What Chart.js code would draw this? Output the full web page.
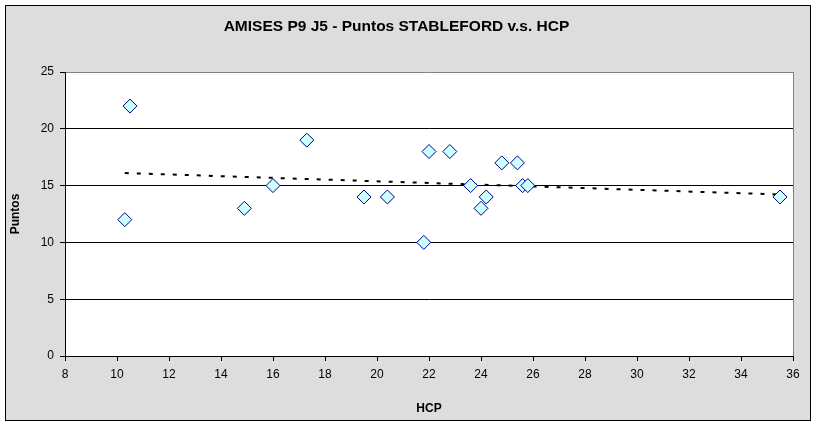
<!DOCTYPE html>
<html>
<head>
<meta charset="utf-8">
<script src="https://cdn.jsdelivr.net/npm/chart.js@4/dist/chart.umd.min.js"></script>
<style>
  body { margin: 0; background: #fff; }
</style>
</head>
<body>
<canvas id="chart" width="817" height="426"></canvas>
<script>
// data
var hcp =    [10.3, 10.5, 14.9, 16, 17.3, 19.5, 20.4, 21.8, 22, 22.8, 23.6, 24, 24.2, 24.8, 25.4, 25.6, 25.8, 35.5];
var puntos = [12,   22,   13,   15, 19,   14,   14,   10,   18, 18,   15,   13, 14,   17,   17,   15,   15,   14];

var titleText = 'AMISES P9 J5 - Puntos STABLEFORD v.s. HCP';
var xTitle = 'HCP';
var yTitle = 'Puntos';

var fontFamily = '"Liberation Sans", Arial, sans-serif';

// linear trend line (like excel), over the data range
function trend(xs, ys) {
    var n = xs.length, sx = 0, sy = 0, sxy = 0, sxx = 0;
    for (var i = 0; i < n; i++) {
        sx += xs[i]; sy += ys[i]; sxy += xs[i] * ys[i]; sxx += xs[i] * xs[i];
    }
    var b = (n * sxy - sx * sy) / (n * sxx - sx * sx);
    var a = (sy - b * sx) / n;
    var x0 = Math.min.apply(null, xs), x1 = Math.max.apply(null, xs);
    return [{ x: x0, y: a + b * x0 }, { x: x1, y: a + b * x1 }];
}

var points = hcp.map(function (v, i) { return { x: v, y: puntos[i] }; });

var background = {
    id: 'background',
    beforeDraw: function (chart) {
        var ctx = chart.ctx, area = chart.chartArea;
        ctx.save();
        ctx.fillStyle = '#fff';
        ctx.fillRect(0, 0, chart.width, chart.height);
        ctx.fillStyle = '#dddddd';
        ctx.fillRect(5.5, 5.5, 805, 415);
        ctx.strokeStyle = '#000';
        ctx.lineWidth = 1;
        ctx.strokeRect(5.5, 5.5, 805, 415);
        ctx.fillStyle = '#fff';
        ctx.fillRect(area.left, area.top, area.right - area.left, area.bottom - area.top);
        ctx.restore();
    }
};

new Chart(document.getElementById('chart'), {
    type: 'scatter',
    data: {
        datasets: [{
            data: points,
            pointStyle: 'rectRot',
            pointRadius: 7,
            pointHoverRadius: 7,
            pointBackgroundColor: '#ccffff',
            pointBorderColor: '#000080',
            pointBorderWidth: 1,
            order: 1
        }, {
            type: 'line',
            data: trend(hcp, puntos),
            borderColor: '#000',
            borderWidth: 2,
            borderDash: [4, 8],
            pointRadius: 0,
            fill: false,
            order: 2
        }]
    },
    options: {
        responsive: false,
        animation: false,
        layout: { padding: { left: 0, right: 24, top: 0, bottom: 0 } },
        plugins: {
            legend: { display: false },
            tooltip: { enabled: false },
            title: {
                display: true,
                text: titleText,
                color: '#000',
                font: { family: fontFamily, size: 15.5, weight: 'bold' },
                padding: { top: 17.7, bottom: 35.7 }
            }
        },
        scales: {
            x: {
                type: 'linear',
                min: 8,
                max: 36,
                afterFit: function (s) { s.height = 70; },
                ticks: { stepSize: 2, color: '#000', padding: 6, font: { family: fontFamily, size: 12 } },
                grid: {
                    color: function (c) { return c.tick && c.tick.value === 36 ? '#808080' : 'rgba(0,0,0,0)'; },
                    tickColor: '#000',
                    tickLength: 5
                },
                border: { color: '#000' },
                title: {
                    display: true,
                    text: xTitle,
                    color: '#000',
                    font: { family: fontFamily, size: 12, weight: 'bold' },
                    padding: { top: 0, bottom: 10 }
                }
            },
            y: {
                min: 0,
                max: 25,
                afterFit: function (s) { s.width = 65; },
                ticks: { stepSize: 5, color: '#000', padding: 6, font: { family: fontFamily, size: 12 } },
                grid: {
                    color: function (c) { return c.tick && c.tick.value === 25 ? '#808080' : '#000'; },
                    tickColor: '#000',
                    tickLength: 5
                },
                border: { color: '#000' },
                title: {
                    display: true,
                    text: yTitle,
                    color: '#000',
                    font: { family: fontFamily, size: 12, weight: 'bold' },
                    padding: { top: 8, bottom: 0 }
                }
            }
        }
    },
    plugins: [background]
});
</script>
</body>
</html>
